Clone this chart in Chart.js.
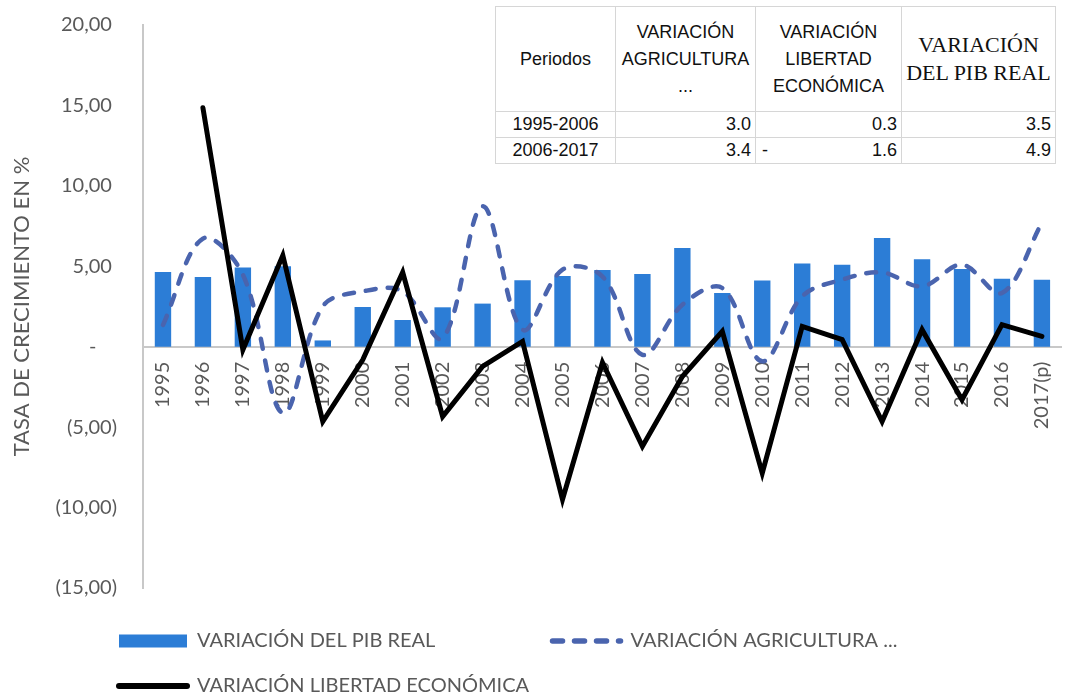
<!DOCTYPE html>
<html lang="es">
<head>
<meta charset="utf-8">
<title>Tasa de crecimiento</title>
<script src="https://cdn.jsdelivr.net/npm/chart.js@4.4.1/dist/chart.umd.min.js"></script>
<style>
  html, body { margin: 0; padding: 0; background: #fff; }
  #wrap { position: relative; width: 1081px; height: 698px; overflow: hidden; }
  #chart { position: absolute; left: 0; top: 0; }

  /* resumen por periodos, arriba a la derecha */
  #periodos {
    position: absolute; left: 495px; top: 6px;
    border-collapse: collapse; table-layout: fixed; background: #fff;
    font-family: "Liberation Sans", Arial, sans-serif; font-size: 18px; color: #111;
  }
  #periodos td { border: 1px solid #d6d6d6; padding: 0 4px; white-space: nowrap; }
  #periodos tr.head td { height: 104px; text-align: center; vertical-align: middle; line-height: 27px; }
  #periodos tr.head td.serif { font-family: "Liberation Serif", "Times New Roman", serif; font-size: 22px; line-height: 28px; }
  #periodos tr.row td { height: 25px; text-align: right; line-height: 25px; }
  #periodos tr.row td:first-child { text-align: center; }
  #periodos .neg { float: left; padding-left: 2px; }
</style>
</head>
<body>
<div id="wrap">
  <canvas id="chart" width="1081" height="698"></canvas>
  <table id="periodos">
    <colgroup><col style="width:120px"><col style="width:140px"><col style="width:146px"><col style="width:154px"></colgroup>
    <tbody id="periodos-body"></tbody>
  </table>
</div>
<script>
// ---- datos del grafico ----
const anios = ['1995', '1996', '1997', '1998', '1999', '2000', '2001', '2002', '2003', '2004', '2005',
  '2006', '2007', '2008', '2009', '2010', '2011', '2012', '2013', '2014', '2015', '2016', '2017(p)'];

const pibReal = [4.65, 4.34, 4.92, 5.00, 0.39, 2.47, 1.66, 2.45, 2.68, 4.13, 4.40,
  4.77, 4.52, 6.14, 3.34, 4.11, 5.17, 5.10, 6.76, 5.43, 4.83, 4.23, 4.17];

const agricultura = [1.35, 6.72, 4.48, -4.13, 2.51, 3.44, 3.44, 0.54, 8.73, 1.06, 4.79,
  4.37, -0.50, 2.61, 3.65, -0.91, 3.13, 4.17, 4.62, 3.75, 5.10, 3.34, 7.70];

const libertad = [null, 14.85, -0.19, 5.68, -4.65, -0.81, 4.62, -4.34, -1.22, 0.33, -9.50,
  -0.98, -6.20, -1.85, 0.95, -7.86, 1.26, 0.44, -4.65, 1.06, -3.30, 1.37, 0.64];

const yTicks = [-15, -10, -5, 0, 5, 10, 15, 20];

// ---- datos de la tabla ----
const tablaPeriodos = ['1995-2006', '2006-2017'];
const tablaAgricultura = [3.0, 3.4];
const tablaLibertad = [0.3, -1.6];
const tablaPib = [3.5, 4.9];

// formato contable: (5,00) para negativos y "-" para cero
function fmtEje(v) {
  if (v === 0) return '-    ';
  const s = Math.abs(v).toFixed(2).replace('.', ',');
  return v < 0 ? '(' + s + ')' : s + ' ';
}

function celda(v) {
  if (v < 0) return '<td><span class="neg">-</span>' + Math.abs(v).toFixed(1) + '</td>';
  return '<td>' + v.toFixed(1) + '</td>';
}

function renderTabla() {
  const body = document.getElementById('periodos-body');
  let html = `
    <tr class="head">
      <td>Periodos</td>
      <td>VARIACIÓN<br>AGRICULTURA<br>...</td>
      <td>VARIACIÓN<br>LIBERTAD<br>ECONÓMICA</td>
      <td class="serif">VARIACIÓN<br>DEL PIB REAL</td>
    </tr>`;
  tablaPeriodos.forEach((p, i) => {
    html += '<tr class="row"><td>' + p + '</td>' + celda(tablaAgricultura[i]) +
      celda(tablaLibertad[i]) + celda(tablaPib[i]) + '</tr>';
  });
  body.innerHTML = html;
}

// mueve la leyenda para que quede como en Excel (alineada a la izquierda del eje)
const legendShift = {
  id: 'legendShift',
  afterLayout(chart) {
    const lg = chart.legend;
    if (!lg) return;
    lg.left += 89; lg.right += 89;
    lg.top += 18; lg.bottom += 18;
  }
};

const gris = '#595959';
const fuente = { family: 'Lato', size: 20 };
const guion = [10, 12];

function loadChart() {
  const ctx = document.getElementById('chart');
  new Chart(ctx, {
    type: 'bar',
    data: {
      labels: anios,
      datasets: [
        {
          type: 'bar', label: 'VARIACIÓN DEL PIB REAL', data: pibReal,
          backgroundColor: '#2c7dd6', categoryPercentage: 1, barPercentage: 0.41, order: 3
        },
        {
          type: 'line', label: 'VARIACIÓN AGRICULTURA ...', data: agricultura,
          borderColor: '#4a64ae', backgroundColor: '#4a64ae', borderWidth: 4.5,
          borderDash: guion, borderCapStyle: 'round', tension: 0.35,
          pointRadius: 0, fill: false, order: 2
        },
        {
          type: 'line', label: 'VARIACIÓN LIBERTAD ECONÓMICA', data: libertad,
          borderColor: '#000', backgroundColor: '#000', borderWidth: 5,
          borderCapStyle: 'round', tension: 0, pointRadius: 0, fill: false, order: 1
        }
      ]
    },
    options: {
      responsive: false,
      animation: false,
      layout: { padding: { left: 5, right: 4, top: 25, bottom: 10 } },
      scales: {
        x: {
          position: { y: 0 },
          offset: true,
          grid: { display: false, drawTicks: false },
          border: { display: true, color: '#c8c8c8', width: 2 },
          ticks: { autoSkip: false, minRotation: 90, maxRotation: 90, padding: 15, color: gris, font: fuente }
        },
        y: {
          min: -15, max: 20,
          afterBuildTicks: s => { s.ticks = yTicks.map(v => ({ value: v })); },
          afterFit: s => { s.width = 138; s.paddingTop = 0; s.paddingBottom = 0; },
          grid: { display: false, drawTicks: false },
          border: { display: true, color: '#c8c8c8', width: 2 },
          ticks: { padding: 26, color: gris, font: fuente, callback: v => fmtEje(v) },
          title: {
            display: true, text: 'TASA DE CRECIMIENTO EN %', color: gris,
            font: { family: 'Lato', size: 22 }, padding: { top: 4, bottom: 4 }
          }
        }
      },
      plugins: {
        tooltip: { enabled: false },
        legend: {
          position: 'bottom',
          align: 'start',
          labels: {
            usePointStyle: true, pointStyleWidth: 68, boxHeight: 13, padding: 25,
            color: gris, font: fuente,
            sort: (a, b) => a.datasetIndex - b.datasetIndex,
            generateLabels(chart) {
              const items = Chart.defaults.plugins.legend.labels.generateLabels(chart);
              items.forEach(it => {
                const ds = chart.data.datasets[it.datasetIndex];
                if (it.datasetIndex === 0) {
                  it.pointStyle = 'rect';
                  it.text += ' '.repeat(18); // hueco hasta la 2a columna
                } else {
                  it.pointStyle = 'line';
                  it.strokeStyle = ds.borderColor;
                  it.lineWidth = ds.borderWidth + 1;
                  it.lineDash = ds.borderDash || [];
                  it.lineCap = 'round';
                }
              });
              return items;
            }
          }
        }
      }
    },
    plugins: [legendShift]
  });
}

document.addEventListener('DOMContentLoaded', () => {
  renderTabla();
  loadChart();
});
</script>
</body>
</html>
